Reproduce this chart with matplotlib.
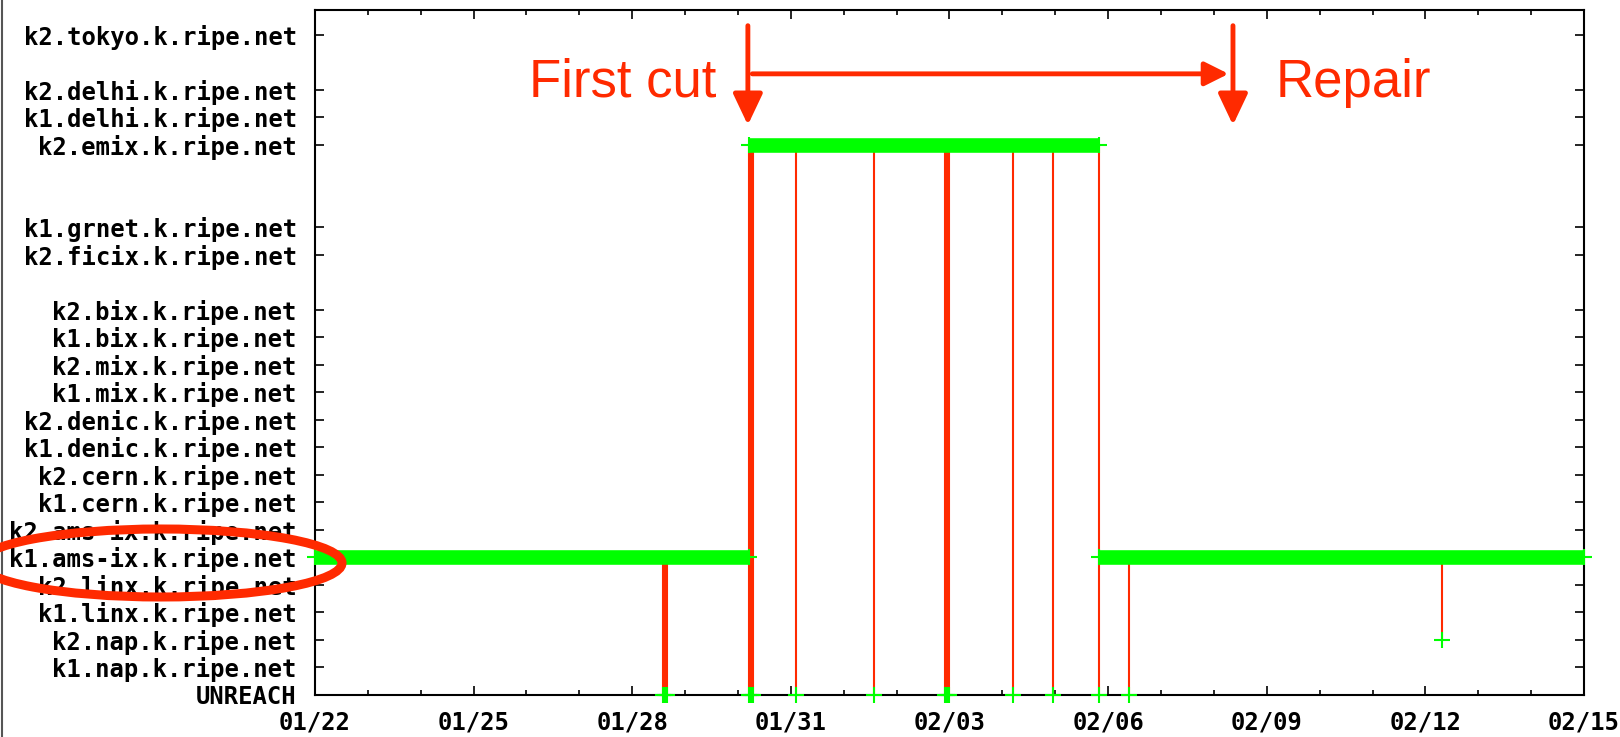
import matplotlib
matplotlib.use('Agg')
import matplotlib.pyplot as plt
import matplotlib.dates as mdates
from matplotlib.patches import Ellipse
from matplotlib.lines import Line2D
import pandas as pd

servers = ['UNREACH', 'k1.nap.k.ripe.net', 'k2.nap.k.ripe.net', 'k1.linx.k.ripe.net',
           'k2.linx.k.ripe.net', 'k1.ams-ix.k.ripe.net', 'k2.ams-ix.k.ripe.net',
           'k1.cern.k.ripe.net', 'k2.cern.k.ripe.net', 'k1.denic.k.ripe.net',
           'k2.denic.k.ripe.net', 'k1.mix.k.ripe.net', 'k2.mix.k.ripe.net',
           'k1.bix.k.ripe.net', 'k2.bix.k.ripe.net', 'k2.ficix.k.ripe.net',
           'k1.grnet.k.ripe.net', 'k2.emix.k.ripe.net', 'k1.delhi.k.ripe.net',
           'k2.delhi.k.ripe.net', 'k2.tokyo.k.ripe.net']
server_pos = [0, 1, 2, 3, 4, 5, 6, 7, 8, 9, 10, 11, 12, 13, 14, 16, 17, 20, 21, 22, 24]

# which instance answered, per period
seg_start = ['2008-01-22 00:00', '2008-01-30 05:10', '2008-02-05 20:00']
seg_end = ['2008-01-30 05:10', '2008-02-05 20:00', '2008-02-15 00:00']
seg_server = ['k1.ams-ix.k.ripe.net', 'k2.emix.k.ripe.net', 'k1.ams-ix.k.ripe.net']

# switches away from the normal instance
drop_time = ['2008-01-28 14:10', '2008-01-28 14:55', '2008-01-28 15:40',
             '2008-01-30 05:10', '2008-01-30 05:55', '2008-01-30 06:40',
             '2008-01-31 02:20', '2008-02-01 13:40',
             '2008-02-02 22:05', '2008-02-02 22:50', '2008-02-02 23:35',
             '2008-02-04 05:00', '2008-02-04 22:50', '2008-02-05 19:55', '2008-02-06 09:20',
             '2008-02-12 07:25']
drop_from = ['k1.ams-ix.k.ripe.net'] * 3 + ['k2.emix.k.ripe.net'] * 11 + \
            ['k1.ams-ix.k.ripe.net', 'k1.ams-ix.k.ripe.net']
drop_to = ['UNREACH'] * 15 + ['k2.nap.k.ripe.net']

cut_time = '2008-01-30 04:30'
repair_time = '2008-02-08 08:40'

red = '#ff2a00'
green = '#00ff00'
pos = dict(zip(servers, server_pos))

fig = plt.figure(figsize=(16.2, 7.37), dpi=100)
ax = fig.add_axes([0.1944, 0.057, 0.7834, 0.9294])

for t, a, b in zip(drop_time, drop_from, drop_to):
    t = pd.Timestamp(t)
    ax.plot([t, t], [pos[a], pos[b]], color=red, lw=1.5, zorder=2)
ax.plot(pd.to_datetime(drop_time), [pos[b] for b in drop_to], '+', color=green,
        ms=11.5, mew=1.5, zorder=4, clip_on=False)

for s, e, name in zip(seg_start, seg_end, seg_server):
    xs = [pd.Timestamp(s), pd.Timestamp(e)]
    ax.plot(xs, [pos[name]] * 2, color=green, lw=10.5, solid_capstyle='butt', zorder=3)
    ax.plot(xs, [pos[name]] * 2, '+', color=green, ms=11.5, mew=1.5, zorder=3, clip_on=False)

ax.set_xlim(pd.Timestamp('2008-01-22'), pd.Timestamp('2008-02-15'))
ax.set_ylim(0, 24.9)
ax.set_yticks(server_pos)
ax.set_yticklabels(servers)
ax.set_xticks(pd.date_range('2008-01-22', '2008-02-15', freq='3D'))
ax.xaxis.set_minor_locator(mdates.DayLocator())
ax.xaxis.set_major_formatter(mdates.DateFormatter('%m/%d'))

for lab in ax.get_xticklabels() + ax.get_yticklabels():
    lab.set_fontfamily('DejaVu Sans Mono')
    lab.set_fontweight('bold')
    lab.set_fontsize(17.2)
ax.tick_params(which='both', direction='in', top=True, right=True, width=1.2, color='black')
ax.tick_params(which='major', length=6.5)
ax.tick_params(which='minor', length=3.6)
ax.tick_params(axis='y', pad=13)
ax.tick_params(axis='x', pad=11)
for sp in ax.spines.values():
    sp.set_linewidth(1.5)

# annotations
ax.annotate('', xy=(pd.Timestamp(cut_time), 20.72), xytext=(pd.Timestamp(cut_time), 24.33),
            arrowprops=dict(arrowstyle='-|>,head_length=0.95,head_width=0.45', color=red,
                            lw=3.5, shrinkA=0, shrinkB=0, mutation_scale=20))
ax.annotate('', xy=(pd.Timestamp(repair_time), 20.72), xytext=(pd.Timestamp(repair_time), 24.33),
            arrowprops=dict(arrowstyle='-|>,head_length=0.95,head_width=0.45', color=red,
                            lw=3.5, shrinkA=0, shrinkB=0, mutation_scale=20))
ax.annotate('', xy=(pd.Timestamp(repair_time) - pd.Timedelta(hours=2), 22.58),
            xytext=(pd.Timestamp(cut_time) + pd.Timedelta(hours=2), 22.58),
            arrowprops=dict(arrowstyle='-|>,head_length=0.72,head_width=0.36', color=red,
                            lw=3.5, shrinkA=0, shrinkB=0, mutation_scale=20))
ax.annotate('First cut', xy=(pd.Timestamp(cut_time), 21.75), xytext=(-23, 0),
            textcoords='offset points', ha='right', va='baseline', color=red,
            fontsize=38, fontfamily='Liberation Sans')
ax.annotate('Repair', xy=(pd.Timestamp(repair_time), 21.75), xytext=(31, 0),
            textcoords='offset points', ha='left', va='baseline', color=red,
            fontsize=38, fontfamily='Liberation Sans')

fig.add_artist(Ellipse((161 / 1620, 1 - 563 / 737), 362 / 1620, 68 / 737, fill=False,
                       ec=red, lw=6.5, transform=fig.transFigure, zorder=10))
fig.add_artist(Line2D([0.0012, 0.0012], [0, 1], color='#555555', lw=1.5,
                      transform=fig.transFigure))

fig.savefig('out.png', dpi=100)
